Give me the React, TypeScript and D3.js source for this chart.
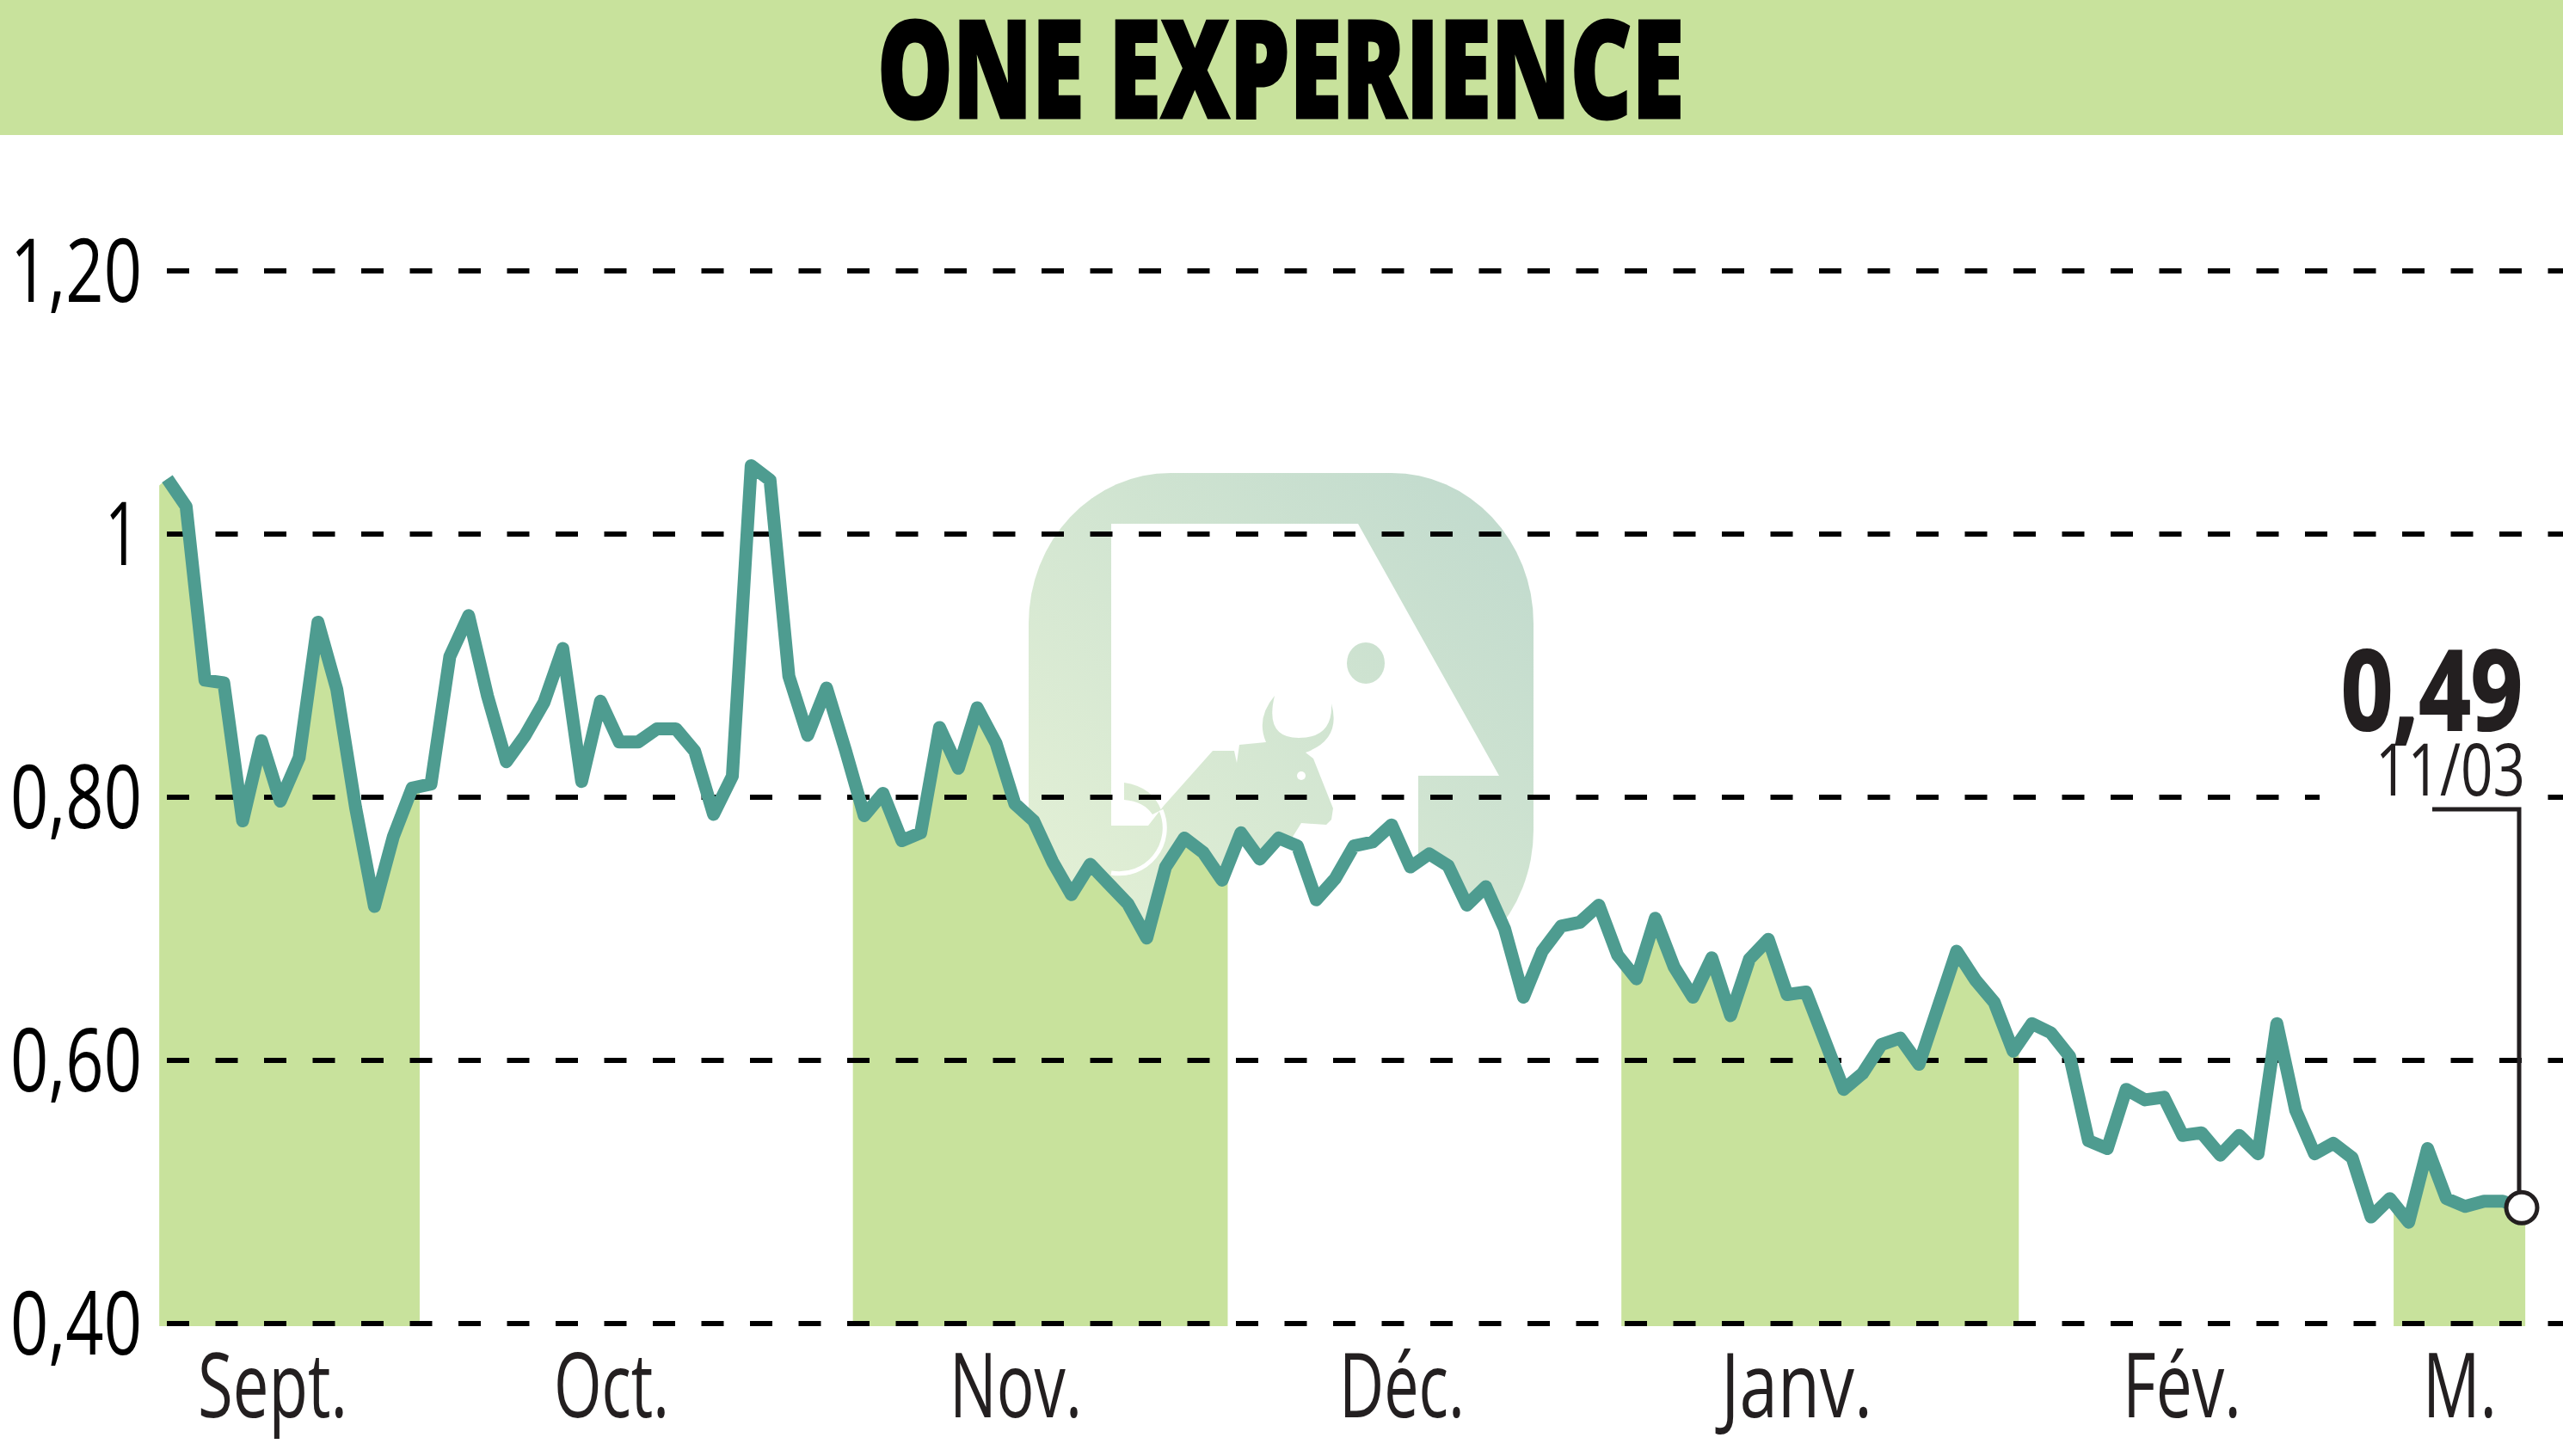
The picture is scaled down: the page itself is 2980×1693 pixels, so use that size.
import React, { useEffect } from "react";
import * as d3 from "d3";

const W = 2980;
const H = 1693;

const titleText = "ONE EXPERIENCE";
const closes = [
  1.042, 1.021, 0.889, 0.887, 0.782, 0.843, 0.797, 0.83, 0.933, 0.882, 0.792, 0.717, 0.77, 0.807, 0.81, 0.907, 0.938,
  0.877, 0.827, 0.847, 0.872, 0.913, 0.812, 0.873, 0.842, 0.842, 0.852, 0.852, 0.835, 0.787, 0.816, 1.052, 1.041, 0.892,
  0.847, 0.883, 0.836, 0.786, 0.803, 0.767, 0.773, 0.853, 0.822, 0.868, 0.841, 0.795, 0.782, 0.751, 0.726, 0.749, 0.734,
  0.719, 0.693, 0.747, 0.769, 0.758, 0.737, 0.773, 0.753, 0.769, 0.763, 0.722, 0.738, 0.763, 0.766, 0.779, 0.747, 0.757,
  0.748, 0.718, 0.732, 0.7, 0.648, 0.683, 0.702, 0.705, 0.718, 0.68, 0.662, 0.708, 0.671, 0.648, 0.678, 0.634, 0.677,
  0.692, 0.65, 0.652, 0.615, 0.578, 0.59, 0.612, 0.617, 0.597, 0.64, 0.683, 0.661, 0.644, 0.607, 0.628, 0.621, 0.603,
  0.539, 0.533, 0.578, 0.57, 0.572, 0.543, 0.545, 0.528, 0.543, 0.529, 0.628, 0.562, 0.529, 0.537, 0.526, 0.481, 0.495,
  0.477, 0.533, 0.495, 0.489, 0.493, 0.493, 0.488,
];
// green month bands, in units of the trading-day index
const bandStarts = [-0.43, 36.4, 77.2, 118.2];
const bandEnds = [13.4, 56.3, 98.3, 125.2];
const yTickValues = [1.2, 1, 0.8, 0.6, 0.4];
const yTickLabels = ["1,20", "1", "0,80", "0,60", "0,40"];
const yTickInkLeft = [12, 122, 12, 12, 12];
const monthLabels = ["Sept.", "Oct.", "Nov.", "Déc.", "Janv.", "Fév.", "M."];
const monthLeft = [230, 644, 1104, 1557, 2001, 2468, 2817];
const monthWidth = [174, 134, 154, 146, 176, 138, 86];
const lastValueLabel = "0,49";
const lastDateLabel = "11/03";

const x = d3.scaleLinear().domain([0, closes.length - 1]).range([194.5, 2932]);
const y = d3.scaleLinear().domain([0.4, 1.2]).range([1539, 315]);

const linePath = d3
  .line<number>()
  .x((_, i) => x(i))
  .y((d) => y(d))(closes) as string;

const areaPoints: [number, number][] = [
  [-0.43, 1.037],
  ...closes.map((v, i) => [i, v] as [number, number]),
  [125.2, closes[closes.length - 1]],
];
const areaPath = d3
  .area<[number, number]>()
  .x((d) => x(d[0]))
  .y0(y(0.4) + 3)
  .y1((d) => y(d[1]))(areaPoints) as string;

const GREEN = "#c8e29c";
const TEAL = "#4e9c90";
const FONT = "'Open Sans', 'Noto Sans', sans-serif";

function Fit(props: {
  x: number;
  y: number;
  w: number;
  size: number;
  weight?: number;
  fill?: string;
  stroke?: string;
  strokeWidth?: number;
  children: string;
}) {
  return (
    <text
      x={props.x}
      y={props.y}
      fontFamily={FONT}
      fontSize={props.size}
      fontWeight={props.weight ?? 400}
      fill={props.fill ?? "#000"}
      stroke={props.stroke}
      strokeWidth={props.strokeWidth}
      textLength={props.w}
      lengthAdjust="spacingAndGlyphs"
    >
      {props.children}
    </text>
  );
}

export default function App() {
  useEffect(() => {
    document.body.style.margin = "0";
  }, []);
  const xEnd = x(closes.length - 1);
  const yEnd = y(closes[closes.length - 1]);
  return (
    <svg
      width={W}
      height={H}
      viewBox={`0 0 ${W} ${H}`}
      style={{ position: "fixed", left: 0, top: 0, display: "block", background: "#fff" }}
    >
      <defs>
        <linearGradient id="wm" gradientUnits="userSpaceOnUse" x1={1196} y1={1120} x2={1783} y2={550}>
          <stop offset="0" stopColor="#e6f2d6" />
          <stop offset="1" stopColor="#bfd9cd" />
        </linearGradient>
        <clipPath id="bands">
          {bandStarts.map((s, i) => (
            <rect key={i} x={x(s)} y={0} width={x(bandEnds[i]) - x(s)} height={H} />
          ))}
        </clipPath>
      </defs>

      {/* watermark */}
      <rect x={1196} y={550} width={587} height={590} rx={165} ry={175} fill="url(#wm)" />
      <path d="M1292,609 L1579,609 L1743,902 L1649,902 L1649,1130 L1292,1130 Z" fill="#fff" />
      <path
        d="M1292,1130 L1292,960 L1335,960 L1353,937 L1410,873 L1435,873 L1438,887 L1441,866 L1472,863 Q1460,835 1482,809 Q1470,858 1510,858 Q1550,858 1548,818 Q1560,860 1518,875 L1527,882 L1550,940 L1548,953 L1542,959 L1513,957 L1503,973 L1480,1130 Z"
        fill="url(#wm)"
      />
      <path d="M1307,910 Q1340,915 1350,942 L1340,947 Q1330,932 1307,930 Z" fill="url(#wm)" />
      <path d="M1350,942 A53,53 0 0 1 1292,1015" fill="none" stroke="#fff" strokeWidth={5} />
      <circle cx={1513} cy={902} r={5} fill="#fff" />
      <ellipse cx={1588} cy={771} rx={22} ry={24} fill="url(#wm)" />

      {/* title band */}
      <rect x={0} y={0} width={W} height={157} fill={GREEN} />
      <Fit x={1020} y={137} w={938} size={157} weight={800} stroke="#000" strokeWidth={3}>
        {titleText}
      </Fit>

      {/* area under the line */}
      <path d={areaPath} fill="#fff" />
      <path d={areaPath} fill={GREEN} clipPath="url(#bands)" />

      {/* grid */}
      {yTickValues.map((v) => (
        <line
          key={v}
          x1={194}
          x2={W}
          y1={y(v)}
          y2={y(v)}
          stroke="#000"
          strokeWidth={6}
          strokeDasharray="26 30.5"
        />
      ))}
      {yTickValues.map((v, i) => (
        <Fit
          key={v}
          x={yTickInkLeft[i]}
          y={y(v) + 36}
          w={yTickLabels[i].length === 1 ? 40 : 153}
          size={102}
        >
          {yTickLabels[i]}
        </Fit>
      ))}

      {monthLabels.map((m, i) => (
        <Fit key={m} x={monthLeft[i]} y={1648} w={monthWidth[i]} size={105} fill="#231f20">
          {m}
        </Fit>
      ))}

      {/* last value callout */}
      <rect x={2697} y={915} width={259} height={20} fill="#fff" />
      <Fit x={2722} y={849} w={211} size={129} weight={700} fill="#231f20" stroke="#231f20" strokeWidth={2}>
        {lastValueLabel}
      </Fit>
      <Fit x={2762} y={925} w={174} size={84} fill="#231f20">
        {lastDateLabel}
      </Fit>

      {/* price line */}
      <path d={linePath} fill="none" stroke={TEAL} strokeWidth={15} strokeLinejoin="round" />

      <path d={`M2828,941 H${xEnd - 3} V${yEnd}`} fill="none" stroke="#231f20" strokeWidth={5} />
      <circle cx={xEnd} cy={yEnd} r={18} fill="#fff" stroke="#231f20" strokeWidth={5} />
    </svg>
  );
}
